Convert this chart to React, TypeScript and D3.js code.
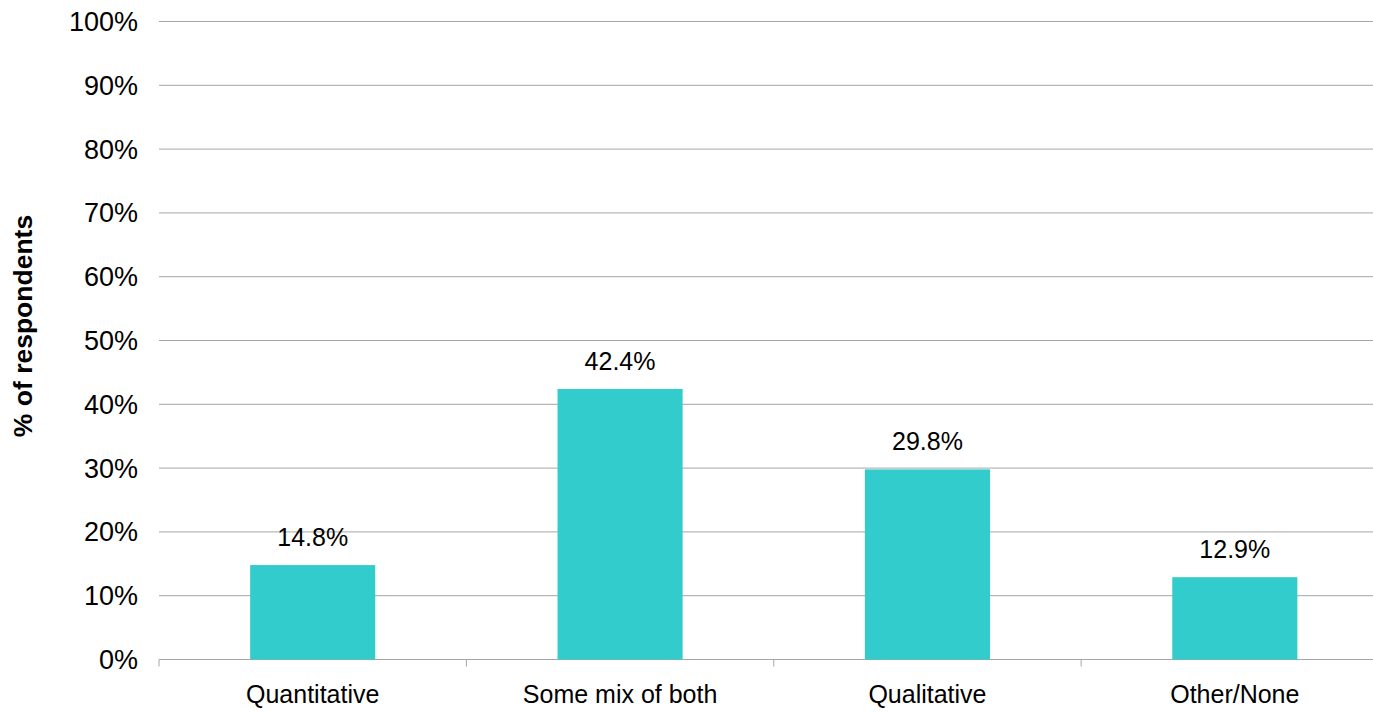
import React from "react";
import * as d3 from "d3";

const categories = ["Quantitative", "Some mix of both", "Qualitative", "Other/None"];
const values = [14.8, 42.4, 29.8, 12.9];
const yTicks = [0, 10, 20, 30, 40, 50, 60, 70, 80, 90, 100];

const W = 1373;
const H = 712;
const left = 159;
const right = 1388.5;
const top = 21.5;
const bottom = 659.5;

export default function App() {
  const x = d3.scaleBand<string>().domain(categories).range([left, right]).paddingInner(0.593).paddingOuter(0.2965);
  const y = d3.scaleLinear().domain([0, 100]).range([bottom, top]);
  const step = x.step();
  const font = "'Liberation Sans', Arial, sans-serif";
  return (
    <svg width={W} height={H} style={{ position: "absolute", left: 0, top: 0 }} fontFamily={font}>
      <rect x={0} y={0} width={W} height={H} fill="#fff" />
      {yTicks.map((t) => (
        <g key={t}>
          <line x1={left} x2={W} y1={y(t)} y2={y(t)} stroke="#a6a6a6" strokeWidth={1} />
          <text x={138} y={y(t)} dy="0.35em" textAnchor="end" fontSize={27} fill="#000">
            {t}%
          </text>
        </g>
      ))}
      {categories.map((c, i) => (
        <line key={"tk" + i} x1={left + i * step} x2={left + i * step} y1={bottom} y2={bottom + 7} stroke="#a6a6a6" />
      ))}
      {categories.map((c, i) => (
        <g key={c}>
          <rect x={x(c)} y={y(values[i])} width={x.bandwidth()} height={bottom - y(values[i])} fill="#33CCCC" />
          <text x={x(c)! + x.bandwidth() / 2} y={y(values[i]) - 19} textAnchor="middle" fontSize={25} fill="#000">
            {values[i].toFixed(1)}%
          </text>
          <text x={x(c)! + x.bandwidth() / 2} y={703} textAnchor="middle" fontSize={25} fill="#000">
            {c}
          </text>
        </g>
      ))}
      <text transform={`translate(32,326) rotate(-90)`} textAnchor="middle" fontSize={26.5} fontWeight="bold" fill="#000">
        % of respondents
      </text>
    </svg>
  );
}
